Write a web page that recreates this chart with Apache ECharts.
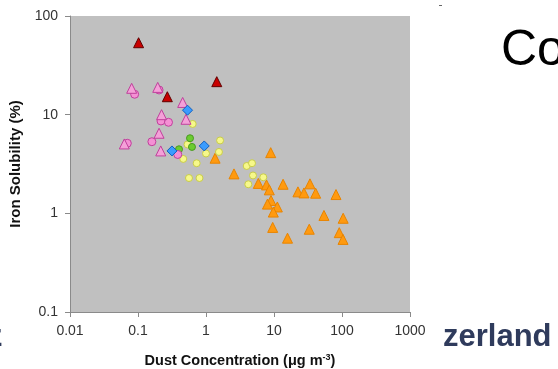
<!DOCTYPE html>
<html>
<head>
<meta charset="utf-8">
<script src="https://cdn.jsdelivr.net/npm/echarts@6/dist/echarts.min.js"></script>
<style>
  html, body { margin: 0; padding: 0; background: #fff; }
  #chart { width: 558px; height: 369px; }
</style>
</head>
<body>
<div id="chart"></div>
<script>
// dust concentration (ug m-3) vs iron solubility (%)
var darkRedTri = [[0.102, 53.6], [0.270, 15.2], [1.44, 21.6]];
var pinkTri = [[0.0807, 18.5], [0.195, 18.9], [0.454, 13.3], [0.222, 10.0], [0.508, 8.98],
  [0.204, 6.48], [0.0629, 5.05], [0.216, 4.29]];
var pinkDot = [[0.0893, 16.1], [0.204, 17.8], [0.218, 8.63], [0.281, 8.37], [0.160, 5.32],
  [0.0697, 5.13], [0.384, 3.95]];
var blueDiamond = [[0.535, 11.1], [0.942, 4.82], [0.316, 4.29]];
var greenDot = [[0.582, 5.77], [0.622, 4.71], [0.401, 4.46]];
var yellowDot = [[0.637, 8.05], [1.61, 5.48], [0.535, 4.99], [1.55, 4.19], [1.0, 4.04],
  [0.463, 3.56], [0.729, 3.22], [3.97, 3.02], [4.75, 3.22], [4.91, 2.42], [6.96, 2.32],
  [4.19, 1.97], [0.562, 2.28], [0.802, 2.28]];
var orangeTri = [[1.36, 3.62], [8.94, 4.12], [2.58, 2.51], [5.88, 2.01], [7.76, 1.94],
  [8.53, 1.73], [13.6, 1.97], [33.8, 1.99], [22.5, 1.65], [27.6, 1.61], [41.0, 1.60],
  [81.6, 1.55], [9.03, 1.35], [8.02, 1.24], [11.2, 1.16], [9.77, 1.03], [54.3, 0.952],
  [104, 0.891], [9.57, 0.720], [33.0, 0.690], [15.8, 0.560], [91.2, 0.637], [103.5, 0.544]];

var xTicks = ['0.01', '0.1', '1', '10', '100', '1000'];
var yTicks = ['0.1', '1', '10', '100'];

function tickLabel(list) {
  return function (v) {
    for (var i = 0; i < list.length; i++) {
      if (Math.abs(Math.log10(+list[i]) - Math.log10(v)) < 1e-6) return list[i];
    }
    return '';
  };
}

var chart = echarts.init(document.getElementById('chart'));

var axisCommon = {
  type: 'log',
  logBase: 10,
  nameLocation: 'middle',
  nameTextStyle: { fontFamily: 'Liberation Sans', fontWeight: 'bold', fontSize: 15, color: '#111' },
  axisLine: { show: true, lineStyle: { color: '#8a8a8a', width: 1 } },
  axisTick: { show: true, inside: false, length: 5, lineStyle: { color: '#8a8a8a' } },
  minorTick: { show: false },
  splitLine: { show: false },
  axisLabel: { fontFamily: 'Liberation Sans', fontSize: 14, color: '#333', margin: 12 }
};

function ser(name, data, symbol, size, fill, border) {
  return {
    name: name,
    type: 'scatter',
    data: data,
    symbol: symbol,
    symbolSize: size,
    itemStyle: { color: fill, borderColor: border, borderWidth: 1, opacity: 1 },
    emphasis: { disabled: true }
  };
}

chart.setOption({
  backgroundColor: '#fff',
  animation: false,
  grid: {
    left: 70, right: 148, top: 16, bottom: 57,
    outerBoundsMode: 'none',
    containLabel: false,
    show: true, backgroundColor: '#c0c0c0', borderWidth: 0
  },
  xAxis: Object.assign({}, axisCommon, {
    min: 0.01, max: 1000,
    name: 'Dust Concentration (\u03bcg m{sup|-3})',
    nameGap: 41,
    nameTextStyle: Object.assign({}, axisCommon.nameTextStyle, {
      fontSize: 14.5,
      rich: { sup: { fontSize: 9, fontWeight: 'bold', fontFamily: 'Liberation Sans', color: '#111', verticalAlign: 'top', padding: [0, 0, 6, 0] } }
    }),
    axisLabel: Object.assign({}, axisCommon.axisLabel, { formatter: tickLabel(xTicks) })
  }),
  yAxis: Object.assign({}, axisCommon, {
    min: 0.1, max: 100,
    name: 'Iron Solubility (%)',
    nameGap: 42,
    axisLabel: Object.assign({}, axisCommon.axisLabel, { formatter: tickLabel(yTicks) })
  }),
  series: [
    ser('orange', orangeTri, 'triangle', 10, '#ff9a10', '#e88400'),
    ser('yellow', yellowDot, 'circle', 7, '#f6f88a', '#c8cc4a'),
    ser('green', greenDot, 'circle', 7, '#6ccc30', '#4a9a20'),
    ser('pinkDot', pinkDot, 'circle', 8, '#f490d4', '#c0409c'),
    ser('pinkTri', pinkTri, 'triangle', 10, '#f4a0d8', '#c0409c'),
    ser('blue', blueDiamond, 'diamond', 10, '#3a9cff', '#1060c0'),
    ser('darkred', darkRedTri, 'triangle', 10, '#c80000', '#600000')
  ],
  graphic: [
    { type: 'text', left: 501, top: 26, style: { text: 'Co', fontFamily: 'Liberation Sans', fontSize: 50, fill: '#000' } },
    { type: 'text', left: 443, top: 322, style: { text: 'zerland', fontFamily: 'Liberation Sans', fontWeight: 'bold', fontSize: 31, fill: '#2f3b5c' } },
    { type: 'text', left: -13, top: 322, style: { text: 'z', fontFamily: 'Liberation Sans', fontWeight: 'bold', fontSize: 31, fill: '#2f3b5c' } },
    { type: 'rect', shape: { x: 439, y: 5, width: 3, height: 1 }, style: { fill: '#666' } }
  ]
});
</script>
</body>
</html>
